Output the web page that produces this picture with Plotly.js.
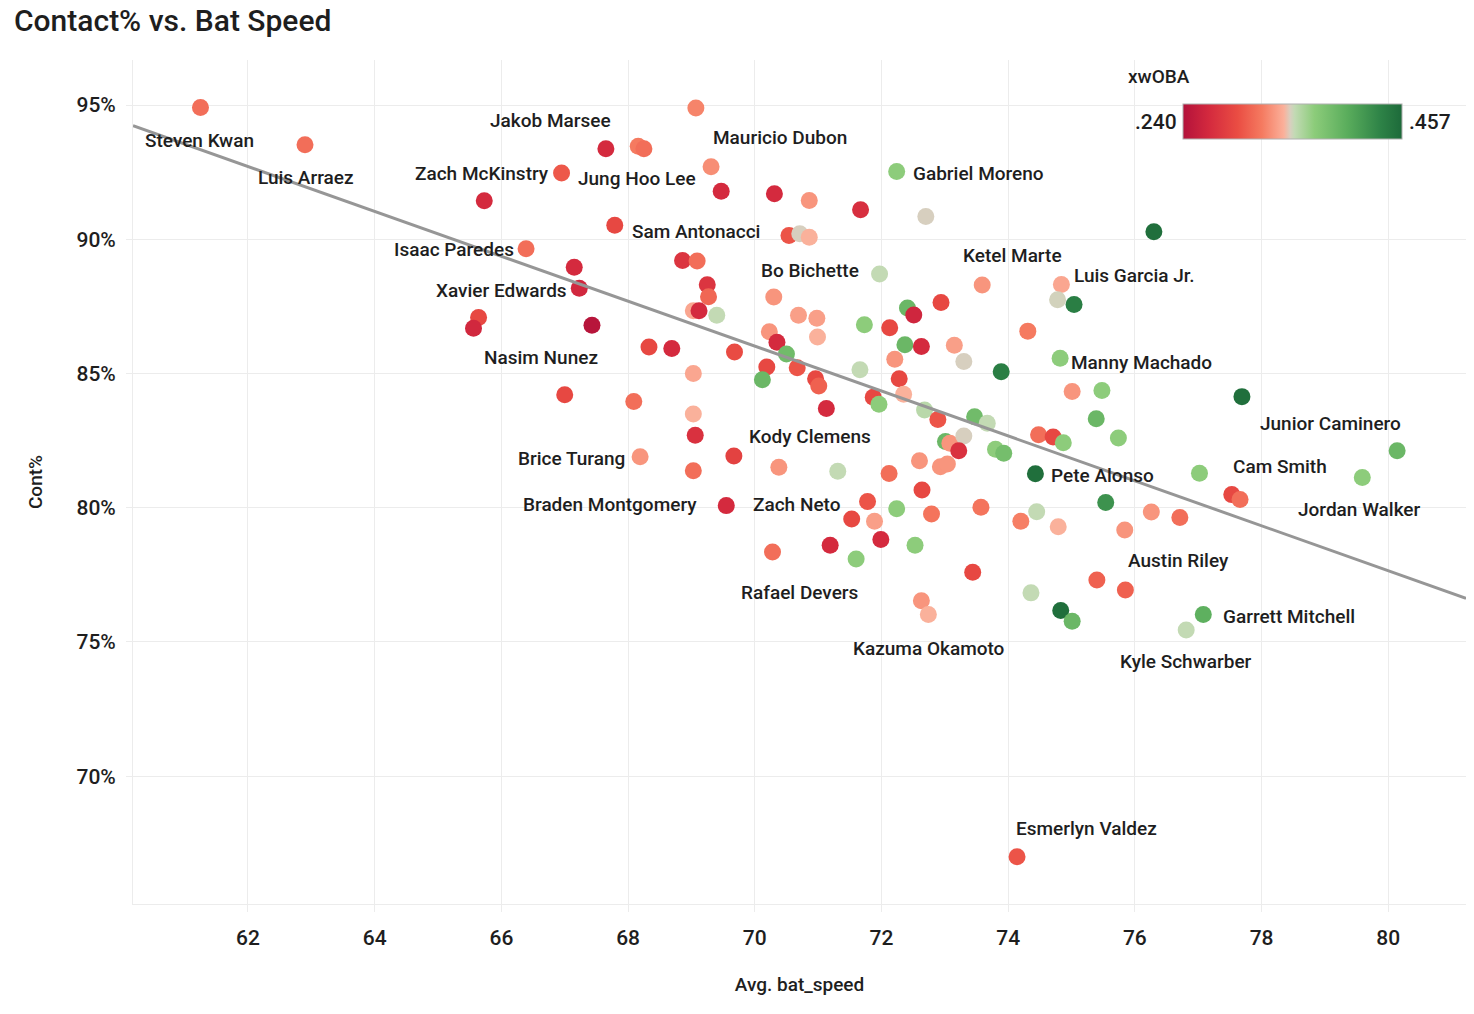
<!DOCTYPE html>
<html>
<head>
<meta charset="utf-8">
<script src="https://cdn.plot.ly/plotly-3.0.1.min.js"></script>
<style>
  html, body { margin: 0; padding: 0; background: #fff; }
  #chart { width: 1474px; height: 1014px; }
</style>
</head>
<body>
<div id="chart"></div>
<script>
// avg bat speed (mph), contact %, xwOBA for each hitter
const batSpeed = [
  61.25, 62.90, 67.65, 66.95, 65.73, 67.79, 66.39, 67.15, 67.23, 65.64,
  65.56, 67.43, 69.07, 68.16, 68.25, 69.31, 69.47, 70.31, 70.86, 71.67,
  72.24, 72.70, 70.54, 70.71, 70.86, 68.86, 69.09, 71.97, 73.59, 74.84,
  69.25, 69.27, 70.30, 69.03, 69.12, 69.40, 72.94, 74.78, 75.04, 72.41,
  72.51, 70.69, 70.98, 71.73, 72.13, 70.23, 70.35, 70.99, 74.31, 72.37,
  72.63, 73.15, 68.33, 68.69, 69.68, 73.30, 73.89, 74.82, 69.03, 70.50,
  70.19, 70.12, 70.67, 71.66, 70.96, 71.01, 72.28, 72.35, 72.21, 71.87,
  71.96, 72.68, 72.89, 71.13, 73.47, 73.67, 75.01, 75.48, 75.39, 75.74,
  74.48, 74.71, 74.87, 73.01, 73.08, 73.30, 73.22, 73.80, 73.93, 72.60,
  72.93, 73.04, 71.31, 72.12, 74.43, 77.02, 72.64, 71.78, 72.24, 72.79,
  73.57, 71.53, 71.89, 74.20, 74.45, 74.79, 75.54, 76.26, 76.71, 75.84,
  77.53, 77.66, 71.19, 71.99, 71.60, 72.53, 73.44, 75.40, 75.85, 74.36,
  74.83, 75.01, 77.08, 76.81, 72.63, 72.74, 74.14, 76.30, 77.69, 80.14,
  79.59, 67.00, 68.09, 69.03, 69.06, 68.19, 69.67, 69.03, 70.38, 69.55,
  70.28
];
const contactPct = [
  94.91, 93.52, 93.37, 92.47, 91.44, 90.52, 89.65, 88.96, 88.18, 87.09,
  86.69, 86.80, 94.89, 93.47, 93.37, 92.70, 91.79, 91.70, 91.45, 91.10,
  92.53, 90.85, 90.14, 90.21, 90.08, 89.21, 89.19, 88.71, 88.30, 88.32,
  88.31, 87.86, 87.85, 87.34, 87.34, 87.17, 87.65, 87.75, 87.57, 87.44,
  87.18, 87.17, 87.06, 86.82, 86.71, 86.56, 86.17, 86.36, 86.58, 86.07,
  86.01, 86.05, 85.99, 85.93, 85.80, 85.45, 85.07, 85.57, 85.00, 85.73,
  85.24, 84.77, 85.22, 85.14, 84.81, 84.54, 84.81, 84.23, 85.53, 84.12,
  83.86, 83.64, 83.29, 83.70, 83.39, 83.15, 84.33, 84.37, 83.32, 82.60,
  82.72, 82.64, 82.42, 82.47, 82.40, 82.67, 82.12, 82.18, 82.03, 81.75,
  81.53, 81.63, 81.36, 81.28, 81.27, 81.29, 80.66, 80.23, 79.96, 79.77,
  80.02, 79.58, 79.50, 79.50, 79.85, 79.29, 80.20, 79.84, 79.64, 79.17,
  80.49, 80.31, 78.60, 78.82, 78.09, 78.60, 77.60, 77.31, 76.94, 76.83,
  76.17, 75.77, 76.02, 75.45, 76.54, 76.02, 67.00, 90.28, 84.14, 82.12,
  81.13, 84.21, 83.96, 83.49, 82.70, 81.90, 81.93, 81.38, 81.51, 80.08,
  78.35
];
const xwoba = [
  .312, .312, .266, .300, .266, .290, .312, .266, .264, .290,
  .264, .243, .322, .318, .312, .326, .266, .266, .329, .270,
  .370, .3465, .298, .3465, .340, .275, .312, .3505, .329, .336,
  .275, .308, .329, .336, .266, .3505, .290, .3475, .440, .392,
  .262, .333, .333, .370, .290, .329, .266, .340, .318, .392,
  .266, .333, .290, .266, .293, .3465, .440, .370, .336, .388,
  .290, .392, .298, .3505, .290, .305, .290, .340, .329, .290,
  .370, .354, .298, .266, .388, .3505, .329, .370, .392, .370,
  .312, .290, .370, .392, .329, .3465, .272, .370, .385, .329,
  .329, .329, .3505, .312, .453, .370, .290, .298, .370, .315,
  .315, .290, .333, .320, .3505, .340, .424, .329, .312, .329,
  .290, .312, .266, .266, .370, .370, .290, .305, .305, .3505,
  .453, .392, .400, .3505, .329, .340, .298, .453, .453, .392,
  .370, .290, .312, .340, .272, .329, .285, .312, .329, .266,
  .312
];

// named hitters and where their labels sit
const labelNames = [
  "Steven Kwan", "Luis Arraez", "Jakob Marsee", "Mauricio Dubon", "Zach McKinstry",
  "Jung Hoo Lee", "Gabriel Moreno", "Sam Antonacci", "Isaac Paredes", "Ketel Marte",
  "Bo Bichette", "Luis Garcia Jr.", "Xavier Edwards", "Nasim Nunez", "Manny Machado",
  "Junior Caminero", "Kody Clemens", "Brice Turang", "Cam Smith", "Pete Alonso",
  "Braden Montgomery", "Zach Neto", "Jordan Walker", "Austin Riley", "Rafael Devers",
  "Garrett Mitchell", "Kazuma Okamoto", "Kyle Schwarber", "Esmerlyn Valdez"
];
const labelX = [
  61.24, 62.91, 66.77, 70.40, 65.70, 68.14, 73.53, 69.08, 65.25, 74.07,
  70.87, 75.99, 66.00, 66.62, 76.10, 79.09, 70.87, 67.11, 78.29, 75.49,
  67.71, 70.66, 79.55, 76.69, 70.71, 78.44, 72.75, 76.81, 75.23
];
const labelY = [
  93.70, 92.31, 94.44, 93.78, 92.46, 92.28, 92.46, 90.30, 89.63, 89.41,
  88.85, 88.67, 88.11, 85.59, 85.43, 83.15, 82.64, 81.84, 81.55, 81.22,
  80.14, 80.14, 79.95, 78.02, 76.85, 75.94, 74.76, 74.27, 68.07
];

// trend line end points
const trendX = [60.185, 81.227];
const trendY = [94.23, 76.63];

// axis ticks
const xTickVals = [62, 64, 66, 68, 70, 72, 74, 76, 78, 80];
const yTickVals = [70, 75, 80, 85, 90, 95];
const yTickText = ['70%', '75%', '80%', '85%', '90%', '95%'];

const FONT = 'Roboto, "Liberation Sans", sans-serif';
const INK = '#1e1e1e';
const GRID = '#ececec';

const xwobaScale = [
  [0.00, '#b3123b'],
  [0.12, '#d42a3e'],
  [0.25, '#ea4d43'],
  [0.36, '#f57a60'],
  [0.46, '#fbb09a'],
  [0.49, '#d8cfbf'],
  [0.51, '#c2dab4'],
  [0.60, '#8ccc7a'],
  [0.75, '#5aad5c'],
  [0.90, '#2e8347'],
  [1.00, '#1d6a3a']
];

const points = {
  x: batSpeed,
  y: contactPct,
  mode: 'markers',
  type: 'scatter',
  hoverinfo: 'x+y',
  marker: {
    size: 17,
    color: xwoba,
    cmin: 0.240,
    cmax: 0.457,
    colorscale: xwobaScale,
    line: { width: 0 },
    showscale: true,
    colorbar: {
      orientation: 'h',
      thickness: 35,
      thicknessmode: 'pixels',
      len: 219,
      lenmode: 'pixels',
      x: 0.870,
      xanchor: 'center',
      y: 0.948,
      yanchor: 'top',
      xpad: 0,
      ypad: 0,
      outlinewidth: 1,
      outlinecolor: '#b0b0b0',
      showticklabels: false,
      ticks: ''
    }
  },
  showlegend: false
};

const trend = {
  x: trendX,
  y: trendY,
  mode: 'lines',
  type: 'scatter',
  line: { color: '#969696', width: 3 },
  hoverinfo: 'skip',
  showlegend: false
};

const annotations = labelNames.map((name, i) => ({
  x: labelX[i],
  y: labelY[i],
  xref: 'x',
  yref: 'y',
  text: name,
  showarrow: false,
  xanchor: 'center',
  yanchor: 'middle',
  font: { family: FONT, size: 19, color: INK, weight: 500 }
}));

// colorbar legend text
annotations.push(
  { x: 0.770, y: 0.981, xref: 'paper', yref: 'paper', text: 'xwOBA', showarrow: false,
    xanchor: 'center', yanchor: 'middle', font: { family: FONT, size: 19, color: INK, weight: 500 } },
  { x: 0.785, y: 0.9265, xref: 'paper', yref: 'paper', text: '.240', showarrow: false,
    xanchor: 'right', yanchor: 'middle', font: { family: FONT, size: 21, color: INK, weight: 500 } },
  { x: 0.956, y: 0.9265, xref: 'paper', yref: 'paper', text: '.457', showarrow: false,
    xanchor: 'left', yanchor: 'middle', font: { family: FONT, size: 21, color: INK, weight: 500 } }
);

const layout = {
  width: 1474,
  height: 1014,
  margin: { l: 133, r: 8, t: 60, b: 110 },
  paper_bgcolor: '#ffffff',
  plot_bgcolor: '#ffffff',
  font: { family: FONT, color: INK },
  title: {
    text: 'Contact% vs. Bat Speed',
    xref: 'container',
    yref: 'container',
    x: 0.0095,
    xanchor: 'left',
    y: 0.980,
    yanchor: 'middle',
    font: { family: FONT, size: 30, color: INK, weight: 500 }
  },
  xaxis: {
    range: [60.185, 81.227],
    tickvals: xTickVals,
    showgrid: true,
    gridcolor: GRID,
    gridwidth: 1,
    zeroline: false,
    showline: true,
    linecolor: GRID,
    ticks: 'outside',
    ticklen: 7,
    tickcolor: GRID,
    ticklabelstandoff: 8,
    tickfont: { family: FONT, size: 21, color: INK, weight: 500 },
    title: { text: 'Avg. bat_speed', standoff: 28, font: { family: FONT, size: 19, color: INK, weight: 500 } }
  },
  yaxis: {
    range: [65.24, 96.68],
    tickvals: yTickVals,
    ticktext: yTickText,
    showgrid: true,
    gridcolor: GRID,
    gridwidth: 1,
    zeroline: false,
    showline: true,
    linecolor: GRID,
    ticks: 'outside',
    ticklen: 6,
    tickcolor: GRID,
    ticklabelstandoff: 6,
    tickfont: { family: FONT, size: 21, color: INK, weight: 500 },
    title: { text: 'Cont%', standoff: 28, font: { family: FONT, size: 19, color: INK, weight: 500 } }
  },
  annotations: annotations
};

Plotly.newPlot('chart', [points, trend], layout, { displayModeBar: false, staticPlot: true });
</script>
</body>
</html>
